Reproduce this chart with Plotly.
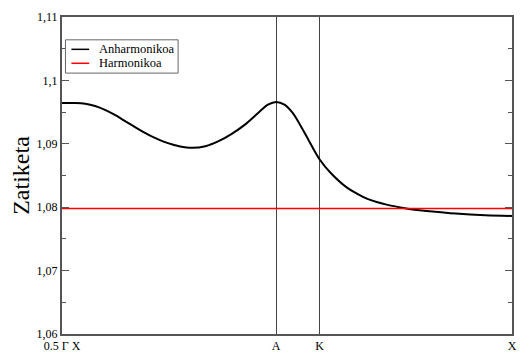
import plotly.graph_objects as go

# Path coordinate (Γ=0 ... X=1) and values
path_x = [0.0, 0.0300, 0.0516, 0.0735, 0.0955, 0.1175, 0.1394, 0.1614, 0.1833, 0.2053, 0.2272,
          0.2492, 0.2601, 0.2894, 0.3188, 0.3480, 0.3772, 0.4066, 0.4358, 0.4577, 0.4760,
          0.4944, 0.5126, 0.5308, 0.5493, 0.5726, 0.5967, 0.6334, 0.6553, 0.6773, 0.6992,
          0.7212, 0.7431, 0.7651, 0.7871, 0.8090, 0.8749, 0.9408, 1.0]
anharmonic = [1.09645, 1.09643, 1.09630, 1.09595, 1.09535, 1.09455, 1.09362, 1.09268, 1.09178, 1.09097, 1.09030,
              1.08982, 1.08962, 1.08937, 1.08962, 1.09041, 1.09157, 1.09303, 1.09487, 1.09618, 1.09660,
              1.09618, 1.09487, 1.09277, 1.09041, 1.08753, 1.08544, 1.08308, 1.08214, 1.08135, 1.08082,
              1.08041, 1.08009, 1.07978, 1.07956, 1.07940, 1.07899, 1.07873, 1.07862]
harmonic_x = [0.0, 1.0]
harmonic = [1.0798, 1.0798]

sym_pos = [0.0, 0.4760, 0.5726, 1.0]
sym_labels = ["0.5 Γ X", "A", "K", "X"]

y_ticks = [1.06, 1.07, 1.08, 1.09, 1.10, 1.11]
y_ticktext = ["1,06", "1,07", "1,08", "1,09", "1,1", "1,11"]
y_minor = [1.065, 1.075, 1.085, 1.095, 1.105]

series_names = ["Anharmonikoa", "Harmonikoa"]
series_colors = ["#000000", "#ff0000"]

FONT = "Liberation Serif, DejaVu Serif, serif"

fig = go.Figure()
fig.add_trace(go.Scatter(x=path_x, y=anharmonic, mode="lines", name=series_names[0],
                         line=dict(color=series_colors[0], width=2, shape="spline", smoothing=1.0),
                         showlegend=False))
fig.add_trace(go.Scatter(x=harmonic_x, y=harmonic, mode="lines", name=series_names[1],
                         line=dict(color=series_colors[1], width=1.5), showlegend=False))

# compact legend box (paper coordinates)
fig.add_shape(type="rect", xref="paper", yref="paper", x0=0.0077, x1=0.258, y0=0.823, y1=0.928,
              line=dict(color="#666666", width=1), fillcolor="white")
rows_y = [0.898, 0.854]
for name, col, yy in zip(series_names, series_colors, rows_y):
    fig.add_shape(type="line", xref="paper", yref="paper", x0=0.0209, x1=0.0604, y0=yy, y1=yy,
                  line=dict(color=col, width=1.5))
    fig.add_annotation(xref="paper", yref="paper", x=0.080, y=yy, text=name, showarrow=False,
                       xanchor="left", yanchor="middle", borderpad=0,
                       font=dict(family=FONT, size=12.5, color="black"))

fig.update_layout(
    width=520, height=356,
    margin=dict(l=62, r=3, t=17, b=21),
    paper_bgcolor="white", plot_bgcolor="white",
    font=dict(family=FONT, size=12, color="black"),
    showlegend=False,
)
fig.update_xaxes(
    range=[0, 1], tickmode="array", tickvals=sym_pos, ticktext=sym_labels,
    ticks="", showgrid=True, gridcolor="#444444", gridwidth=1,
    showline=True, linecolor="#555555", linewidth=2, mirror=True,
    zeroline=False, tickfont=dict(family=FONT, size=12, color="black"),
)
fig.update_yaxes(
    range=[1.06, 1.11], tickmode="array", tickvals=y_ticks, ticktext=y_ticktext,
    ticks="inside", ticklen=7, tickcolor="#555555", tickwidth=1,
    minor=dict(tickvals=y_minor, ticks="inside", ticklen=4, tickcolor="#555555", showgrid=False),
    showgrid=False, showline=True, linecolor="#555555", linewidth=2, mirror="ticks",
    zeroline=False, tickfont=dict(family=FONT, size=12, color="black"),
    title=dict(text="Zatiketa", font=dict(family=FONT, size=24, color="black"), standoff=0),
)
fig.write_html("out.html")
